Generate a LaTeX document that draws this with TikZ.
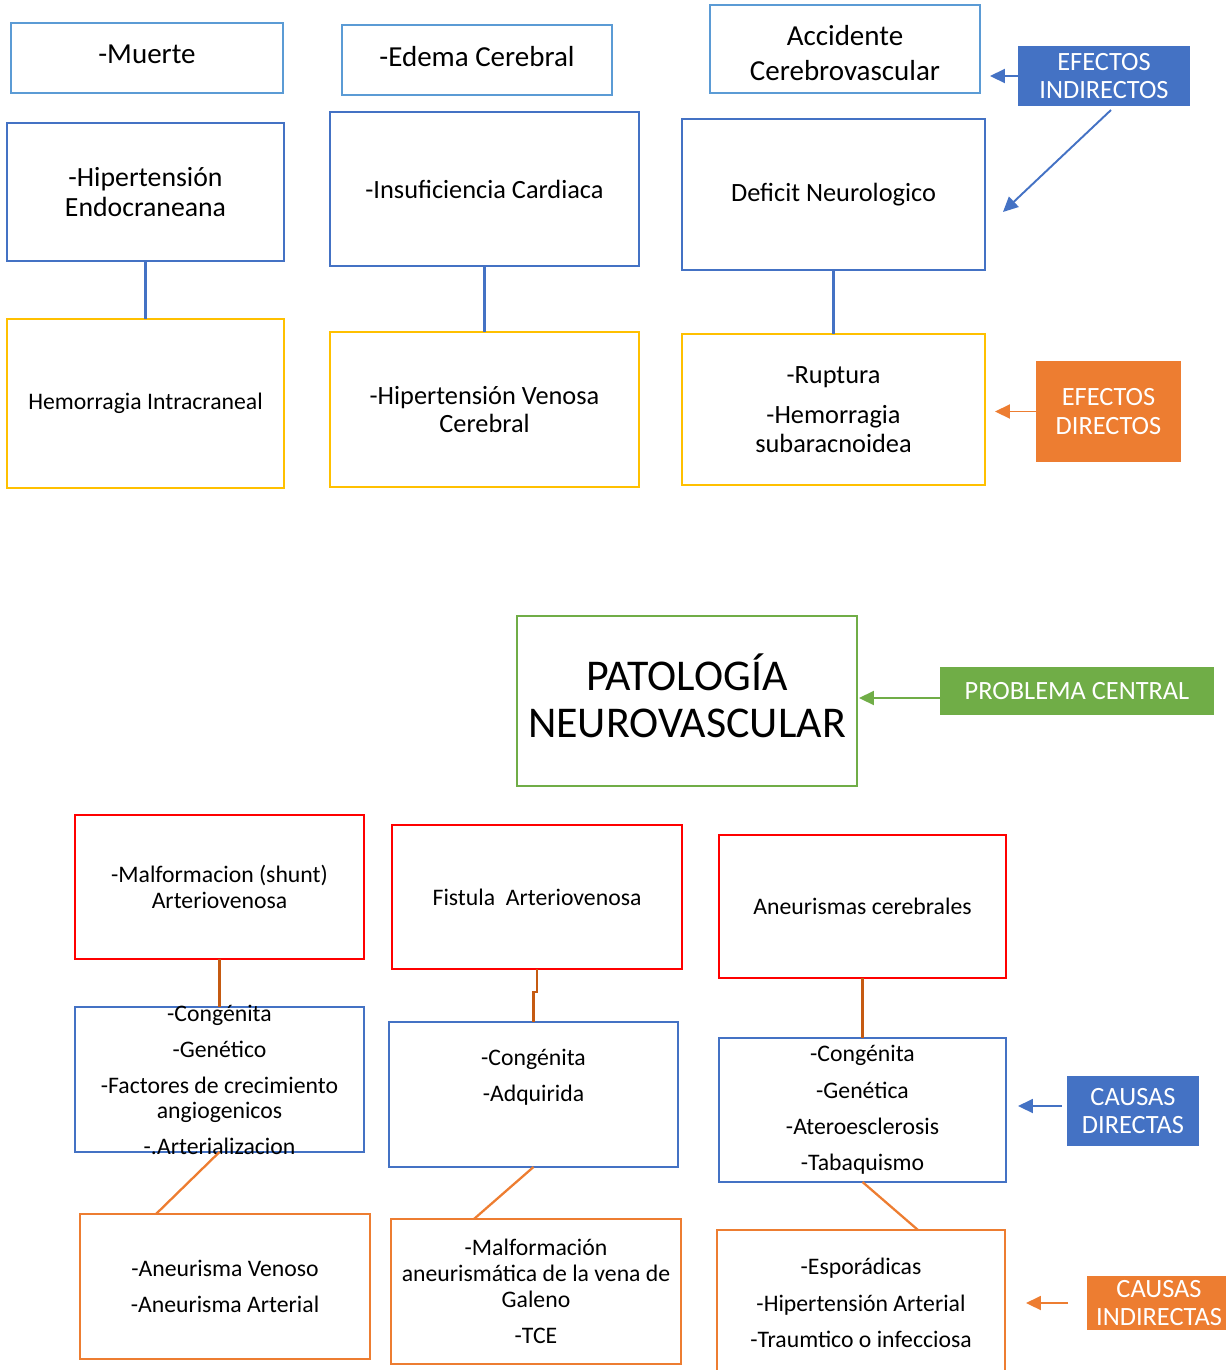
\documentclass[tikz,border=0pt]{standalone}
\usepackage{fontspec}
\setmainfont{Carlito}
\usepackage{tikz}
\usetikzlibrary{arrows.meta,calc}

\definecolor{azulclaro}{HTML}{5B9BD5}
\definecolor{azul}{HTML}{4472C4}
\definecolor{ambar}{HTML}{FFC000}
\definecolor{verde}{HTML}{70AD47}
\definecolor{rojo}{HTML}{FF0000}
\definecolor{naranja}{HTML}{ED7D31}
\definecolor{cafe}{HTML}{C55A11}

\begin{document}
\begin{tikzpicture}[x=0.02cm, y=-0.02cm,
    caja/.style={draw, line width=1.5pt, inner sep=0pt, outer sep=0pt, align=center,
      font=\fontsize{13.5}{14.7}\selectfont},
    texto/.style={inner sep=0pt, align=center, font=\fontsize{13.5}{14.7}\selectfont},
    etiqueta/.style={inner sep=0pt, outer sep=0pt, align=center, text=white,
      font=\fontsize{15}{16.4}\selectfont},
    flecha/.style={line width=1.1pt, -{Triangle[length=0.3cm,width=0.28cm]}},
    linea/.style={line width=1.3pt}]
    \useasboundingbox (0,0) rectangle (1225,1370);

    % Efectos indirectos
    \node[caja, draw=azulclaro, minimum width=5.44cm, minimum height=1.40cm, text depth=4.5pt,
      font=\fontsize{16.5}{20}\selectfont] (muerte) at (147,58) {-Muerte};
    \node[caja, draw=azulclaro, minimum width=5.40cm, minimum height=1.40cm, text depth=4.5pt,
      font=\fontsize{16.5}{20}\selectfont] (edema) at (477,60) {-Edema Cerebral};
    \node[caja, draw=azulclaro, minimum width=5.40cm, minimum height=1.76cm,
      font=\fontsize{16.5}{20.4}\selectfont] (acv) at (845,49) {};
    \node[texto, font=\fontsize{16.5}{20.4}\selectfont] (acvt) at (845,53) {Accidente\\ Cerebrovascular};

    \node[caja, draw=azul, minimum width=5.54cm, minimum height=2.76cm,
      font=\fontsize{15.8}{17}\selectfont] (hipen) at (145.5,192) {-Hipertensión\\ Endocraneana};
    \node[caja, draw=azul, minimum width=6.18cm, minimum height=3.08cm,
      font=\fontsize{15}{16.4}\selectfont] (insuf) at (484.5,189) {-Insuficiencia Cardiaca};
    \node[caja, draw=azul, minimum width=6.06cm, minimum height=3.02cm,
      font=\fontsize{15}{16.4}\selectfont] (defic) at (833.5,194.5) {Deficit Neurologico};

    % Efectos directos
    \node[caja, draw=ambar, minimum width=5.54cm, minimum height=3.38cm] (hemo) at (145.5,403.5)
      {Hemorragia Intracraneal};
    \node[caja, draw=ambar, minimum width=6.18cm, minimum height=3.10cm,
      font=\fontsize{15}{16.4}\selectfont] (hvc) at (484.5,409.5) {-Hipertensión Venosa\\ Cerebral};
    \node[caja, draw=ambar, minimum width=6.06cm, minimum height=3.02cm,
      font=\fontsize{15}{16.4}\selectfont] (rupt) at (833.5,409.5)
      {-Ruptura\\[6.3pt] -Hemorragia\\ subaracnoidea};

    \draw[linea, azul] (hipen) -- (hemo);
    \draw[linea, azul] (insuf) -- (hvc);
    \draw[linea, azul] (defic) -- (rupt);

    % Problema central
    \node[caja, draw=verde, minimum width=6.80cm, minimum height=3.40cm, text depth=6pt,
      font=\fontsize{25}{27}\selectfont] (pat) at (687,701) {PATOLOGÍA\\ NEUROVASCULAR};

    % Causas
    \node[caja, draw=rojo, minimum width=5.78cm, minimum height=2.88cm] (malf) at (219.5,887)
      {-Malformacion (shunt)\\ Arteriovenosa};
    \node[caja, draw=rojo, minimum width=5.80cm, minimum height=2.88cm] (fist) at (537,897)
      {Fistula\ \ Arteriovenosa};
    \node[caja, draw=rojo, minimum width=5.74cm, minimum height=2.86cm] (aneu) at (862.5,906.5)
      {Aneurismas cerebrales};

    \node[caja, draw=azul, minimum width=5.78cm, minimum height=2.90cm] (cd1) at (219.5,1079.5) {};
    \node[caja, draw=azul, minimum width=5.78cm, minimum height=2.90cm] (cd2) at (533.5,1094.5) {};
    \node[caja, draw=azul, minimum width=5.74cm, minimum height=2.88cm] (cd3) at (862.5,1110)
      {-Congénita\\[5.9pt] -Genética\\[5.9pt] -Ateroesclerosis\\[5.9pt] -Tabaquismo};
    \node[texto] (cd1t) at (219.5,1080)
      {-Congénita\\[5.7pt] -Genético\\[5.7pt] -Factores de crecimiento\\ angiogenicos\\[5.7pt] -.Arterializacion};
    \node[texto] (cd2t) at (533.5,1077) {-Congénita\\[5.9pt] -Adquirida};

    \node[caja, draw=naranja, minimum width=5.80cm, minimum height=2.90cm] (ci1) at (225,1286.5)
      {-Aneurisma Venoso\\[6.2pt] -Aneurisma Arterial};
    \node[caja, draw=naranja, minimum width=5.80cm, minimum height=2.90cm] (ci2) at (536,1291.5)
      {-Malformación\\ aneurismática de la vena de\\ Galeno\\[6.2pt] -TCE};
    \node[caja, draw=naranja, minimum width=5.76cm, minimum height=2.92cm] (ci3) at (861,1303)
      {-Esporádicas\\[5.9pt] -Hipertensión Arterial\\[5.9pt] -Traumtico o infecciosa};

    \draw[linea, cafe] (malf) -- (cd1);
    \draw[linea, cafe] (fist.south) -- ++(0,23) -| (cd2.north);
    \draw[linea, cafe] (aneu) -- (cd3);
    \draw[linea, naranja] (cd1.south) -- ($(ci1.north west)!0.262!(ci1.north east)$);
    \draw[linea, naranja] (cd2.south) -- ($(ci2.north west)!0.286!(ci2.north east)$);
    \draw[linea, naranja] (cd3.south) -- ($(ci3.north west)!0.698!(ci3.north east)$);

    % Etiquetas
    \node[etiqueta, fill=azul, minimum width=3.44cm, minimum height=1.20cm] (efi) at (1104,76)
      {EFECTOS\\ INDIRECTOS};
    \node[etiqueta, fill=naranja, minimum width=2.90cm, minimum height=2.02cm] (efd) at (1108.5,411.5)
      {EFECTOS\\ DIRECTOS};
    \node[etiqueta, fill=verde, minimum width=5.48cm, minimum height=0.96cm] (pc) at (1077,691)
      {PROBLEMA CENTRAL};
    \node[etiqueta, fill=azul, minimum width=2.64cm, minimum height=1.40cm] (cd) at (1133,1111)
      {CAUSAS\\ DIRECTAS};
    \node[etiqueta, fill=naranja, minimum width=2.88cm, minimum height=1.08cm] (ci) at (1159,1303)
      {CAUSAS\\ INDIRECTAS};

    \coordinate (defin) at ([xshift=0.36cm,yshift=-0.35cm]defic.east);
    \draw[flecha, azul, shorten >=0.2cm] (efi.west) -- (efi.west -| acv.east);
    \draw[flecha, azul] ([xshift=0.14cm,yshift=-0.08cm]efi.south) -- (defin);
    \draw[flecha, naranja, shorten >=0.2cm] (efd.west) -- (efd.west -| rupt.east);
    \draw[flecha, verde, shorten >=0.04cm] ([yshift=-0.14cm]pc.west) -- ([yshift=-0.14cm]pc.west -| pat.east);
    \draw[flecha, azul, shorten <=0.1cm, shorten >=0.24cm] ([yshift=0.1cm]cd.west) -- ([yshift=0.1cm]cd.west -| cd3.east);
    \draw[flecha, naranja, shorten <=0.38cm, shorten >=0.42cm] (ci.west) -- (ci.west -| ci3.east);
\end{tikzpicture}
\end{document}
